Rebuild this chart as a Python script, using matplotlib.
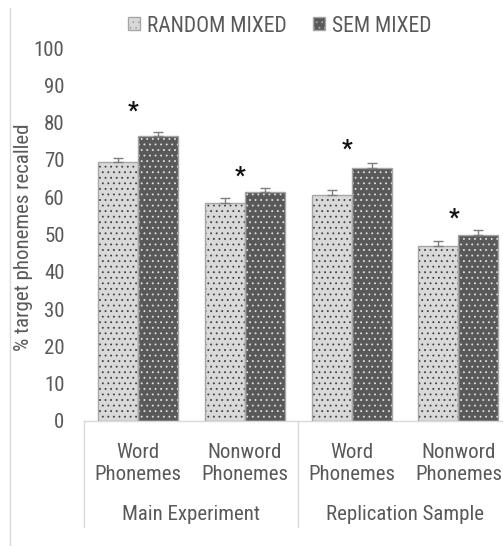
import matplotlib
matplotlib.use("Agg")
import matplotlib.pyplot as plt
from matplotlib.patches import Patch
from matplotlib.lines import Line2D
import matplotlib.transforms as mtransforms

plt.rcParams['font.family'] = ['Roboto Condensed', 'DejaVu Sans']
plt.rcParams['hatch.linewidth'] = 0.6

# ---- data ----
categories = ["Word\nPhonemes", "Nonword\nPhonemes", "Word\nPhonemes", "Nonword\nPhonemes"]
groups = ["Main Experiment", "Replication Sample"]
series_names = ["RANDOM MIXED", "SEM MIXED"]
random_mixed = [69.5, 58.5, 60.5, 47.0]
sem_mixed = [76.5, 61.3, 67.9, 49.9]
random_err = [1.0, 1.4, 1.4, 1.3]
sem_err = [1.1, 1.2, 1.2, 1.3]
star_y = [83.0, 65.7, 72.9, 54.4]
yticks = list(range(0, 101, 10))

TXT = "#595959"
FS = 15
W, H = 503, 546
fig = plt.figure(figsize=(W / 100, H / 100), dpi=100)
ax = fig.add_axes([84 / W, (H - 421) / H, 428 / W, 373 / H])

x = list(range(len(categories)))
bw = 40 / 107
xr = [i - bw / 2 for i in x]
xs = [i + bw / 2 for i in x]

# fills with dot hatch
ax.bar(xr, random_mixed, width=bw, color="#d9d9d9", edgecolor="#404040", hatch="...", linewidth=0, zorder=2)
ax.bar(xs, sem_mixed, width=bw, color="#595959", edgecolor="#e0e0e0", hatch="...", linewidth=0, zorder=2)
# outlines
ax.bar(xr, random_mixed, width=bw, fill=False, edgecolor="#a6a6a6", linewidth=1.0, zorder=3)
ax.bar(xs, sem_mixed, width=bw, fill=False, edgecolor="#a6a6a6", linewidth=1.0, zorder=3)

ax.errorbar(xr, random_mixed, yerr=[[0] * 4, random_err], fmt="none", ecolor="#7f7f7f", elinewidth=1, capsize=3.5, capthick=1, zorder=4)
ax.errorbar(xs, sem_mixed, yerr=[[0] * 4, sem_err], fmt="none", ecolor="#7f7f7f", elinewidth=1, capsize=3.5, capthick=1, zorder=4)

for i, sy in zip(x, star_y):
    ax.text(i - 0.04, sy, "*", ha="center", va="center", fontsize=17, fontweight="bold", color="#111111")

ax.set_xlim(-0.5, 3.5)
ax.set_ylim(0, 100)
ax.set_yticks(yticks)
ax.set_yticklabels([str(t) for t in yticks], fontsize=FS, color=TXT)
ax.tick_params(axis="y", length=0, pad=14)
ax.set_xticks([])
for s in ["left", "right", "top"]:
    ax.spines[s].set_visible(False)
ax.spines["bottom"].set_color("#d9d9d9")
ax.spines["bottom"].set_linewidth(1)

fig.text(24 / W, 1 - 237 / H, "% target phonemes recalled", rotation=90, ha="center", va="center",
         fontsize=FS, color=TXT)

# category labels
trans = mtransforms.blended_transform_factory(ax.transData, fig.transFigure)
for i, c in zip(x, categories):
    ax.text(i, 1 - 463 / H, c, transform=trans, ha="center", va="center", fontsize=FS, color=TXT, linespacing=1.2)
for g, name in enumerate(groups):
    ax.text(2 * g + 0.5, 1 - 515 / H, name, transform=trans, ha="center", va="center", fontsize=FS, color=TXT)
for xv in [-0.5, 1.5, 3.5]:
    ax.add_line(Line2D([xv, xv], [1 - 421 / H, 1 - 527 / H], transform=trans, color="#d9d9d9", lw=1, clip_on=False))

# outer left border line
fig.add_artist(Line2D([9.5 / W, 9.5 / W], [0, 1 - 8 / H], transform=fig.transFigure, color="#d9d9d9", lw=1))

handles = [Patch(facecolor="#d9d9d9", edgecolor="#a6a6a6", hatch="...", label=series_names[0]),
           Patch(facecolor="#595959", edgecolor="#a6a6a6", hatch="...", label=series_names[1])]
fig.legend(handles=handles, loc="center", bbox_to_anchor=(280 / W, 1 - 26 / H), ncol=2, frameon=False,
           handlelength=0.55, handleheight=0.55, handletextpad=0.35, columnspacing=1.2,
           fontsize=15.5, labelcolor=TXT)

fig.savefig("out.png", dpi=100)
